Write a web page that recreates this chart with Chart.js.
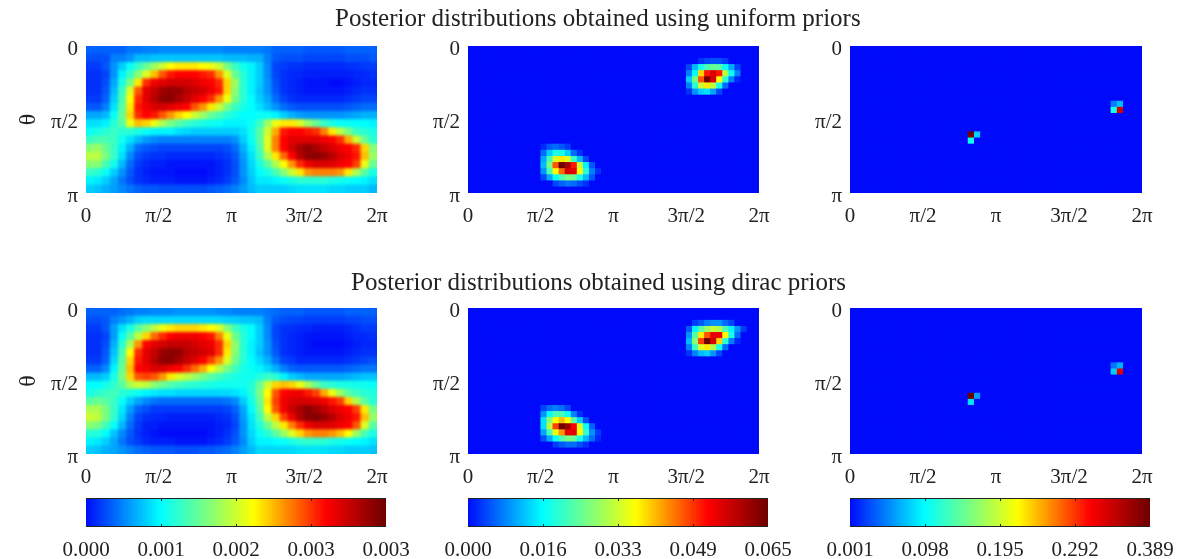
<!DOCTYPE html>
<html>
<head>
<meta charset="utf-8">
<title>Posterior distributions</title>
<script src="https://cdn.jsdelivr.net/npm/chart.js@4"></script>
<style>
    body { margin: 0; background: #fff; width: 1180px; height: 559px; overflow: hidden; position: relative; }
    canvas { position: absolute; filter: blur(0.5px); }
    .title { position: absolute; font-family: "Liberation Serif", serif; font-size: 25px; color: #222; white-space: nowrap; filter: blur(0.4px); }
</style>
</head>
<body>
<div class="title" style="left:335px; top:4px">Posterior distributions obtained using uniform priors</div>
<div class="title" style="left:351px; top:268px">Posterior distributions obtained using dirac priors</div>
<script>
const xTickLabels = ['0', 'π/2', 'π', '3π/2', '2π'];
const yTickLabels = ['0', 'π/2', 'π'];
const yAxisName = 'θ';

const barLabelsLeft = ['0.000', '0.001', '0.002', '0.003', '0.003'];
const barLabelsMid = ['0.000', '0.016', '0.033', '0.049', '0.065'];
const barLabelsRight = ['0.001', '0.098', '0.195', '0.292', '0.389'];

// left column, 36 x 18 cells
const uniformLeft = [
    [9,9,9,9,9,11,11,12,12,13,13,13,13,13,13,13,13,12,12,12,12,12,11,9,9,9,9,8,8,8,8,8,9,9,9,9],
    [7,7,7,12,12,14,18,18,19,19,19,19,19,19,19,19,19,18,18,18,17,17,12,8,7,7,7,6,6,6,6,6,7,7,7,8],
    [5,5,8,14,20,26,32,38,44,50,56,58,58,58,56,54,50,40,32,27,24,20,13,6,5,4,4,3,3,3,3,3,4,4,5,5],
    [4,4,6,14,24,32,42,52,62,72,78,80,80,80,78,76,66,52,38,30,24,20,13,6,4,3,3,2,2,2,2,2,2,3,3,4],
    [4,4,7,16,28,40,58,76,82,84,86,86,86,84,82,80,76,60,44,30,24,20,14,7,4,3,2,1,1,1,0,0,1,2,3,3],
    [4,4,8,18,32,52,72,84,88,93,95,94,90,88,86,82,78,60,42,30,24,19,14,8,4,3,2,1,1,1,1,1,2,3,4,4],
    [5,5,9,20,34,56,76,84,90,95,96,92,88,84,80,76,66,54,40,30,25,20,16,10,6,4,3,3,3,3,3,3,4,5,6,6],
    [8,8,12,22,36,58,78,82,85,86,84,82,80,72,66,58,50,40,32,28,25,22,18,14,10,8,7,7,7,7,7,7,8,9,10,10],
    [16,16,18,26,38,60,76,80,78,72,66,60,56,50,44,38,34,30,27,25,25,26,26,24,20,17,15,14,14,14,14,14,15,16,17,17],
    [22,22,24,30,36,54,62,60,54,46,40,36,32,30,28,27,26,24,24,24,26,32,44,54,58,58,52,44,38,32,28,26,26,25,25,24],
    [26,28,30,32,30,30,28,26,24,24,24,22,21,20,20,20,20,20,20,22,27,36,50,64,78,80,80,78,76,68,58,48,40,32,30,28],
    [32,34,34,32,27,22,18,15,13,12,12,12,12,12,12,12,12,12,14,20,26,36,52,68,80,84,84,84,84,82,80,76,64,50,38,30],
    [42,44,38,32,24,17,10,8,7,6,6,6,6,6,6,6,6,7,10,17,24,34,52,68,80,86,92,95,92,88,85,82,80,76,60,42],
    [48,48,40,32,22,13,7,5,4,4,3,3,3,3,3,3,4,5,8,15,22,32,46,58,70,80,90,95,96,94,90,85,82,78,62,44],
    [42,42,34,27,18,10,5,3,2,2,1,1,1,1,1,1,2,4,7,14,21,28,36,46,56,66,76,82,85,85,84,82,80,74,54,38],
    [32,30,26,20,14,8,4,2,1,1,1,0,0,0,0,1,2,4,7,14,20,25,28,34,42,50,58,66,68,68,68,66,58,46,36,28],
    [24,23,20,16,11,7,4,3,2,2,2,1,1,1,1,2,3,5,8,13,19,23,23,24,26,28,30,30,30,30,28,27,26,25,24,22],
    [20,19,17,15,13,11,9,8,8,7,7,7,7,7,7,8,9,10,12,15,18,20,20,20,20,21,22,22,22,22,21,21,20,20,20,18]
];

const diracLeft = [
    [9,9,9,9,10,11,12,12,13,13,13,14,14,14,14,14,13,13,12,12,12,12,11,10,9,9,9,8,8,8,8,8,9,9,9,9],
    [7,7,8,12,14,17,20,21,21,21,21,21,21,21,21,21,21,20,20,19,19,18,12,8,7,6,6,5,5,5,5,5,6,6,7,7],
    [5,5,8,15,22,28,36,42,48,54,58,60,60,60,58,56,52,42,33,28,25,20,13,6,4,4,3,3,2,2,2,2,3,4,5,5],
    [4,4,6,15,26,36,48,60,70,76,80,82,82,82,80,78,68,54,39,30,25,20,13,6,4,3,2,1,1,1,1,1,2,3,3,4],
    [4,4,7,17,30,46,66,80,84,86,88,88,88,86,84,82,76,60,43,30,24,20,14,7,4,3,2,1,0,0,0,0,1,2,3,3],
    [4,4,8,19,34,56,76,84,88,94,96,95,90,88,86,84,76,58,42,30,24,19,14,8,4,3,2,1,1,1,1,1,2,3,4,4],
    [5,5,9,21,36,60,78,84,90,95,96,92,88,84,80,74,66,52,39,30,25,21,17,11,6,5,3,3,3,3,3,3,4,5,6,7],
    [9,9,13,24,38,62,80,82,85,85,82,80,76,70,64,56,48,40,33,28,26,24,21,17,12,9,8,8,8,8,8,8,9,10,11,11],
    [18,18,20,28,40,60,72,74,72,66,58,52,48,44,40,36,33,30,28,27,27,29,32,30,24,20,18,16,16,16,16,16,17,18,19,19],
    [25,25,27,31,36,46,50,48,42,38,35,33,31,30,29,28,27,27,27,27,29,38,50,60,62,60,54,46,38,32,30,28,28,27,27,26],
    [28,30,32,33,30,28,26,24,23,22,22,21,21,21,21,21,21,21,22,24,29,40,56,72,80,82,82,78,74,64,54,44,36,32,30,29],
    [36,38,36,32,26,20,16,13,11,10,10,10,10,10,10,10,10,11,13,20,27,38,58,74,82,85,86,85,84,82,78,74,60,46,36,30],
    [46,46,40,32,23,15,9,7,5,5,5,5,5,5,5,5,5,6,9,16,25,36,56,72,82,87,92,96,93,89,85,82,80,74,58,40],
    [50,48,40,31,21,12,6,4,3,3,2,2,2,2,2,2,3,4,7,15,23,33,48,60,74,82,91,96,97,94,90,85,82,78,62,44],
    [42,40,33,26,18,10,5,2,2,1,1,1,1,1,1,1,2,3,6,14,22,29,38,48,58,68,76,82,85,85,84,82,80,72,52,36],
    [30,29,25,19,13,8,4,2,1,0,0,0,0,0,0,1,2,4,7,14,21,26,30,36,44,52,60,66,68,68,66,62,56,44,34,28],
    [24,23,20,16,11,7,5,3,2,2,2,1,1,1,1,2,3,5,8,13,20,24,24,25,26,28,30,31,30,30,28,27,26,25,24,22],
    [20,19,17,16,14,12,10,9,8,8,8,7,7,7,8,8,9,10,12,15,18,21,21,21,21,21,22,22,22,22,21,21,20,20,20,19]
];

// middle column, 48 x 24 cells, everything not listed is 0: [col, row, percent]
const uniformMid = [
    [38,2,4],[39,2,6],[40,2,7],[41,2,7],[42,2,5],
    [36,3,6],[37,3,18],[38,3,28],[39,3,34],[40,3,38],[41,3,36],[42,3,26],[43,3,16],[44,3,6],
    [36,4,12],[37,4,25],[38,4,60],[39,4,78],[40,4,85],[41,4,78],[42,4,48],[43,4,26],[44,4,12],
    [36,5,20],[37,5,40],[38,5,72],[39,5,100],[40,5,85],[41,5,56],[42,5,30],[43,5,12],[44,5,3],
    [36,6,12],[37,6,30],[38,6,50],[39,6,58],[40,6,48],[41,6,28],[42,6,10],
    [36,7,4],[37,7,14],[38,7,20],[39,7,22],[40,7,15],[41,7,6],
    [12,16,3],[13,16,8],[14,16,10],[15,16,8],[16,16,5],
    [12,17,10],[13,17,20],[14,17,28],[15,17,28],[16,17,20],[17,17,10],[18,17,4],
    [12,18,16],[13,18,34],[14,18,52],[15,18,58],[16,18,52],[17,18,32],[18,18,18],[19,18,6],
    [12,19,18],[13,19,40],[14,19,72],[15,19,100],[16,19,92],[17,19,78],[18,19,50],[19,19,24],[20,19,8],
    [12,20,14],[13,20,34],[14,20,56],[15,20,70],[16,20,86],[17,20,84],[18,20,56],[19,20,30],[20,20,12],[21,20,4],
    [12,21,6],[13,21,16],[14,21,26],[15,21,34],[16,21,40],[17,21,38],[18,21,28],[19,21,18],[20,21,8],
    [14,22,6],[15,22,9],[16,22,11],[17,22,10],[18,22,7],[19,22,4]
];

const diracMid = [
    [37,2,5],[38,2,8],[39,2,12],[40,2,14],[41,2,14],[42,2,10],[43,2,6],
    [36,3,8],[37,3,24],[38,3,36],[39,3,44],[40,3,50],[41,3,46],[42,3,34],[43,3,24],[44,3,14],[45,3,5],
    [36,4,14],[37,4,36],[38,4,58],[39,4,72],[40,4,84],[41,4,82],[42,4,56],[43,4,28],[44,4,10],
    [36,5,18],[37,5,42],[38,5,74],[39,5,100],[40,5,86],[41,5,60],[42,5,30],[43,5,12],[44,5,3],
    [36,6,12],[37,6,32],[38,6,52],[39,6,58],[40,6,46],[41,6,28],[42,6,10],
    [36,7,4],[37,7,12],[38,7,18],[39,7,20],[40,7,14],[41,7,6],
    [12,16,6],[13,16,10],[14,16,12],[15,16,10],[16,16,6],
    [12,17,14],[13,17,26],[14,17,34],[15,17,34],[16,17,26],[17,17,12],[18,17,4],
    [12,18,22],[13,18,42],[14,18,56],[15,18,62],[16,18,56],[17,18,36],[18,18,20],[19,18,7],
    [12,19,22],[13,19,48],[14,19,74],[15,19,100],[16,19,94],[17,19,80],[18,19,52],[19,19,26],[20,19,9],
    [12,20,16],[13,20,34],[14,20,54],[15,20,66],[16,20,84],[17,20,84],[18,20,56],[19,20,32],[20,20,14],[21,20,5],
    [12,21,7],[13,21,16],[14,21,26],[15,21,34],[16,21,40],[17,21,38],[18,21,28],[19,21,18],[20,21,10],[21,21,3],
    [14,22,5],[15,22,8],[16,22,10],[17,22,10],[18,22,7],[19,22,4]
];

// right column, 47 x 24 cells
const uniformRight = [
    [42,9,12],[43,9,18],[42,10,28],[43,10,86],
    [19,14,100],[20,14,20],[19,15,27]
];

const diracRight = [
    [42,9,11],[43,9,17],[42,10,20],[43,10,84],
    [19,14,100],[20,14,15],[19,15,22]
];

const colorStops = [
    [0, 0, 10, 250],
    [25, 0, 255, 255],
    [40, 120, 255, 130],
    [56, 255, 255, 0],
    [80, 255, 0, 0],
    [100, 110, 0, 0]
];

function colorFor(v) {
    let i = 0;
    while (i < colorStops.length - 2 && v > colorStops[i + 1][0]) i++;
    const a = colorStops[i], b = colorStops[i + 1];
    const t = (v - a[0]) / (b[0] - a[0]);
    const c = [1, 2, 3].map(k => Math.round(a[k] + (b[k] - a[k]) * t));
    return 'rgb(' + c.join(',') + ')';
}

const serif = '"Liberation Serif", serif';
const axisLeft = 72, axisBottom = 40, padTop = 20, padRight = 24;

function addCanvas(x, y, w, h) {
    const c = document.createElement('canvas');
    c.width = w;
    c.height = h;
    c.style.left = x + 'px';
    c.style.top = y + 'px';
    document.body.appendChild(c);
    return c;
}

function gridPoints(cols, rows, valueAt) {
    const pts = [];
    for (let r = 0; r < rows; r++) {
        for (let c = 0; c < cols; c++) {
            pts.push({ x: c + 0.5, y: r + 0.5, v: valueAt(c, r) });
        }
    }
    return pts;
}

// softens the cells the way the scanned figure is soft
const softCells = {
    id: 'softCells',
    afterDatasetsDraw(chart, args, opts) {
        const { ctx, chartArea: a, canvas } = chart;
        ctx.save();
        ctx.beginPath();
        ctx.rect(a.left, a.top, a.right - a.left, a.bottom - a.top);
        ctx.clip();
        ctx.filter = 'blur(' + opts.px + 'px)';
        ctx.drawImage(canvas, 0, 0);
        ctx.restore();
    }
};

function panel(x, y, w, h, cols, rows, valueAt, named, soft) {
    const pts = gridPoints(cols, rows, valueAt);
    const half = Math.max(w / cols, h / rows) / 2 + 0.3;
    const canvas = addCanvas(x - axisLeft, y - padTop, w + axisLeft + padRight, h + padTop + axisBottom);
    new Chart(canvas, {
        type: 'scatter',
        data: {
            datasets: [{
                data: pts,
                pointStyle: 'rect',
                pointRadius: half * Math.SQRT2,
                pointBorderWidth: 0,
                pointBackgroundColor: pts.map(p => colorFor(p.v)),
                clip: 0
            }]
        },
        plugins: [softCells],
        options: {
            responsive: false,
            animation: false,
            events: [],
            layout: { padding: { top: padTop, right: padRight } },
            plugins: { legend: { display: false }, tooltip: { enabled: false }, softCells: { px: soft } },
            scales: {
                x: {
                    type: 'linear',
                    min: 0,
                    max: cols,
                    grid: { display: false },
                    border: { display: false },
                    afterBuildTicks: ax => { ax.ticks = xTickLabels.map((l, i) => ({ value: cols * i / 4 })); },
                    afterFit: ax => { ax.height = axisBottom; },
                    ticks: {
                        callback: (v, i) => xTickLabels[i],
                        autoSkip: false,
                        maxRotation: 0,
                        padding: 3,
                        color: '#222',
                        font: { family: serif, size: 21 }
                    }
                },
                y: {
                    type: 'linear',
                    reverse: true,
                    min: 0,
                    max: rows,
                    grid: { display: false },
                    border: { display: false },
                    afterBuildTicks: ax => { ax.ticks = yTickLabels.map((l, i) => ({ value: rows * i / 2 })); },
                    afterFit: ax => { ax.width = axisLeft; },
                    title: { display: named, text: yAxisName, color: '#222', padding: 0, font: { family: serif, size: 24 } },
                    ticks: {
                        callback: (v, i) => yTickLabels[i],
                        autoSkip: false,
                        padding: 0,
                        labelOffset: 3,
                        color: '#222',
                        font: { family: serif, size: 21 }
                    }
                }
            }
        }
    });
}

// frame and the small inner marks of a colour bar
const barFrame = {
    id: 'barFrame',
    afterDraw(chart) {
        const { ctx, chartArea: a, scales } = chart;
        ctx.save();
        ctx.strokeStyle = '#222';
        ctx.lineWidth = 1;
        ctx.beginPath();
        ctx.moveTo(a.left, a.top + 0.5);
        ctx.lineTo(a.right, a.top + 0.5);
        ctx.moveTo(a.left, a.bottom - 0.5);
        ctx.lineTo(a.right, a.bottom - 0.5);
        [25, 50, 75].forEach(v => {
            const px = Math.round(scales.x.getPixelForValue(v)) + 0.5;
            ctx.moveTo(px, a.top);
            ctx.lineTo(px, a.top + 3);
            ctx.moveTo(px, a.bottom);
            ctx.lineTo(px, a.bottom - 3);
        });
        ctx.stroke();
        ctx.restore();
    }
};

const barSteps = [...Array(100).keys()];

function colorBar(x, y, w, h, labels) {
    const canvas = addCanvas(x - 40, y - 4, w + 80, h + 4 + 40);
    new Chart(canvas, {
        type: 'bar',
        data: {
            datasets: [{
                data: barSteps.map(s => ({ x: s + 0.5, y: 1 })),
                backgroundColor: barSteps.map(s => colorFor(s + 0.5)),
                barPercentage: 1,
                categoryPercentage: 1,
                borderWidth: 0
            }]
        },
        plugins: [barFrame],
        options: {
            responsive: false,
            animation: false,
            events: [],
            layout: { padding: { top: 4, left: 40, right: 40 } },
            plugins: { legend: { display: false }, tooltip: { enabled: false } },
            scales: {
                x: {
                    type: 'linear',
                    offset: false,
                    min: 0,
                    max: 100,
                    grid: { display: false },
                    border: { display: false },
                    afterBuildTicks: ax => { ax.ticks = labels.map((l, i) => ({ value: i * 25 })); },
                    afterFit: ax => { ax.height = 40; },
                    ticks: {
                        callback: (v, i) => labels[i],
                        autoSkip: false,
                        maxRotation: 0,
                        padding: 3,
                        color: '#222',
                        font: { family: serif, size: 21 }
                    }
                },
                y: { display: false, min: 0, max: 1 }
            }
        }
    });
}

function lookup(cells) {
    const m = {};
    cells.forEach(c => { m[c[0] + ',' + c[1]] = c[2]; });
    return (c, r) => m[c + ',' + r] || 0;
}

panel(86, 46, 291, 147, 36, 18, (c, r) => uniformLeft[r][c], true, 1.5);
panel(468, 46, 291, 147, 48, 24, lookup(uniformMid), false, 0.7);
panel(850, 46, 292, 147, 47, 24, lookup(uniformRight), false, 0.3);
panel(86, 308, 291, 146, 36, 18, (c, r) => diracLeft[r][c], true, 1.5);
panel(468, 308, 291, 146, 48, 24, lookup(diracMid), false, 0.7);
panel(850, 308, 292, 146, 47, 24, lookup(diracRight), false, 0.3);

colorBar(86, 498, 300, 29, barLabelsLeft);
colorBar(468, 498, 300, 29, barLabelsMid);
colorBar(850, 498, 300, 29, barLabelsRight);
</script>
</body>
</html>
